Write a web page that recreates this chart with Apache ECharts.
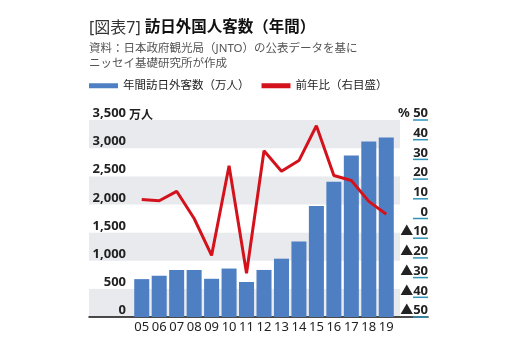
<!DOCTYPE html>
<html><head><meta charset="utf-8">
<script src="https://cdn.jsdelivr.net/npm/echarts@6/dist/echarts.min.js"></script>
<style>html,body{margin:0;padding:0;background:#fff}#c{width:507px;height:345px}</style>
</head><body><div id="c"></div>
<script>
const years = ['05','06','07','08','09','10','11','12','13','14','15','16','17','18','19'];
const visitors = [673,733,835,835,679,861,622,836,1036,1341,1974,2404,2869,3119,3188];
const yoy = [9.6,9.0,13.8,0.0,-18.7,26.8,-27.8,34.4,24.0,29.4,47.1,21.8,19.3,8.7,2.2];
const leftMin = 0, leftMax = 3500, leftStep = 500;
const rightMin = -50, rightMax = 50, rightStep = 10;
const rightTickValues = [50, 40, 30, 20, 10, 0, -10, -20, -30, -40, -50];
const titleTag = '[図表7] ';
const titleMain = '訪日外国人客数（年間）';
const sourceText = '資料：日本政府観光局（JNTO）の公表データを基に\nニッセイ基礎研究所が作成';
const seriesNames = ['年間訪日外客数（万人）', '前年比（右目盛）'];
const leftUnit = '万人';

const FONT = "'Noto Sans', 'Noto Sans CJK JP', sans-serif";
const chart = echarts.init(document.getElementById('c'), null, {renderer: 'canvas'});
const G = {top: 120, bottom: 28};
const RIGHT_OFFSET = 18, TICK_LEN = 15;
chart.setOption({
  animation: false,
  textStyle: {fontFamily: FONT},
  title: [
    {left: 89, top: 20, padding: 0,
     text: '{a|' + titleTag + '}{b|' + titleMain + '}',
     textStyle: {rich: {
       a: {fontSize: 16, color: '#333', fontWeight: 'normal', fontFamily: FONT},
       b: {fontSize: 15.5, color: '#111', fontWeight: 'bold', fontFamily: FONT}}}},
    {left: 89, top: 41, padding: 0, text: sourceText,
     textStyle: {fontSize: 11.5, color: '#555', fontWeight: 'normal', lineHeight: 15, fontFamily: FONT}}
  ],
  legend: {
    left: 89, top: 80, padding: 0, icon: 'rect', itemWidth: 29, itemHeight: 5, itemGap: 12,
    textStyle: {fontSize: 11.5, color: '#222'},
    data: seriesNames
  },
  grid: [
    {left: 89, right: 107, top: G.top, bottom: G.bottom},
    {left: 133, right: 112, top: G.top, bottom: G.bottom},
    {left: 89, right: 79, top: G.top, bottom: G.bottom}
  ],
  xAxis: [
    {gridIndex: 0, type: 'value', show: false, min: 0, max: 1},
    {gridIndex: 1, type: 'category', data: years,
     axisLine: {show: false}, axisTick: {show: false},
     axisLabel: {interval: 0, margin: 4, fontSize: 13, color: '#222', hideOverlap: false}},
    {gridIndex: 2, type: 'value', min: 0, max: 1,
     axisLine: {show: true, lineStyle: {color: '#111', width: 1.5}},
     axisTick: {show: false}, axisLabel: {show: false}, splitLine: {show: false}}
  ],
  yAxis: [
    {gridIndex: 0, type: 'value', min: leftMin, max: leftMax, interval: leftStep,
     axisLine: {show: false}, axisTick: {show: false}, splitLine: {show: false},
     splitArea: {show: true, areaStyle: {color: ['#e8eaee', '#ffffff']}},
     axisLabel: {inside: true, align: 'right', margin: 37, verticalAlign: 'bottom',
       fontWeight: 'bold', fontSize: 13, color: '#222',
       formatter: v => v.toLocaleString('en-US')}},
    {gridIndex: 1, type: 'value', min: leftMin, max: leftMax, interval: leftStep, show: false},
    {gridIndex: 1, type: 'value', position: 'right', offset: RIGHT_OFFSET,
     min: rightMin, max: rightMax, interval: rightStep,
     axisLine: {show: false}, splitLine: {show: false}, axisTick: {show: false},
     axisLabel: {align: 'right', margin: TICK_LEN, verticalAlign: 'bottom',
       fontWeight: 'bold', fontSize: 13, color: '#222',
       formatter: v => v === rightMax ? '% ' + v : (v < 0 ? '▲' + (-v) : '' + v)}},
    {gridIndex: 2, type: 'value', show: false, min: 0, max: 1}
  ],
  series: [
    {name: seriesNames[0], type: 'bar', xAxisIndex: 1, yAxisIndex: 1, data: visitors,
     barCategoryGap: '14%', itemStyle: {color: '#4f7fc3'}, z: 2},
    {name: seriesNames[1], type: 'line', xAxisIndex: 1, yAxisIndex: 2, data: yoy,
     showSymbol: false, symbol: 'none', lineStyle: {color: '#d4121c', width: 3},
     itemStyle: {color: '#d4121c'}, z: 3},
    {name: 'ticks', type: 'custom', xAxisIndex: 1, yAxisIndex: 2, z: 1, silent: true,
     clip: false,
     data: rightTickValues.map(v => [0, v]),
     encode: {x: 0, y: 1},
     renderItem: function (params, api) {
       const cs = params.coordSys;
       const y = api.coord([0, api.value(1)])[1];
       const x0 = cs.x + cs.width + RIGHT_OFFSET;
       return {type: 'rect', shape: {x: x0, y: y - 0.75, width: TICK_LEN, height: 1.5},
               style: {fill: '#2f93b8'}};
     }}
  ],
  graphic: [
    {type: 'text', left: 129, top: 110,
     style: {text: leftUnit, fontSize: 12, fontWeight: 'bold', fill: '#222', fontFamily: FONT}}
  ]
});
</script></body></html>
